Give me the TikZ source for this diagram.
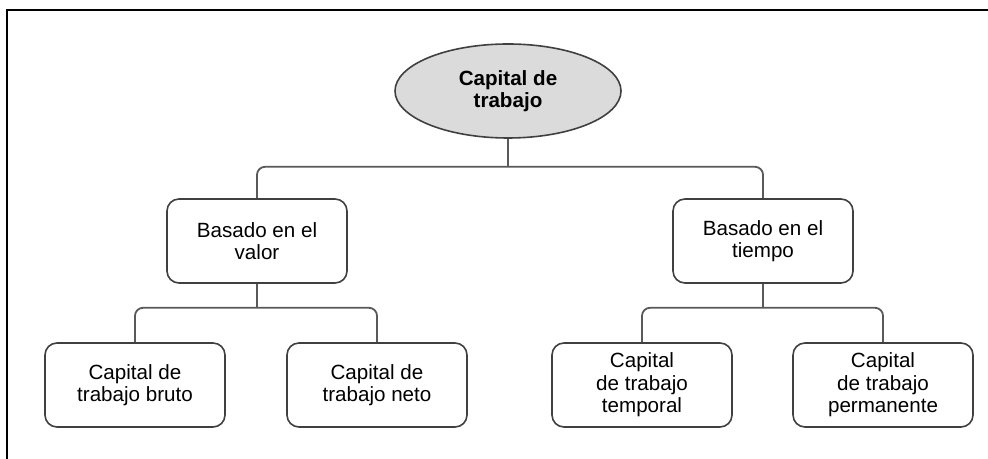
\documentclass[tikz,border=0pt]{standalone}
\usepackage{fontspec}
\setmainfont{Liberation Sans}
\usetikzlibrary{shapes.geometric}
\begin{document}
\begin{tikzpicture}[
  every node/.style={font=\fontsize{10.3}{11.2}\selectfont, align=center},
  root/.style={ellipse, draw=black!75, fill=black!14, line width=0.8pt,
    minimum width=113pt, minimum height=47pt, font=\fontsize{10.3}{11.2}\selectfont\bfseries},
  box/.style={rectangle, rounded corners=6pt, draw=black!75, line width=0.8pt,
    minimum width=90pt, minimum height=42pt},
  link/.style={draw=black!65, line width=0.9pt, rounded corners=4pt}
  ]
  \useasboundingbox (0pt,0pt) rectangle (494pt,-229.5pt);
  \draw[line width=1pt] (3.5pt,-229.5pt) -- (3.5pt,-5pt) -- (494pt,-5pt);
  \node (root) [root] at (254pt,-45.5pt) {Capital de\\trabajo};
  \node (valor) [box, below of=root, node distance=75pt, xshift=-125.5pt] {Basado en el\\valor};
  \node (tiempo) [box, below of=root, node distance=75pt, xshift=127.5pt] {Basado en el\\tiempo};
  \node (bruto) [box, below of=valor, node distance=72pt, xshift=-61pt] {Capital de\\trabajo bruto};
  \node (neto) [box, below of=valor, node distance=72pt, xshift=60pt] {Capital de\\trabajo neto};
  \node (temporal) [box, below of=tiempo, node distance=72pt, xshift=-60.5pt] {Capital\\de trabajo\\temporal};
  \node (permanente) [box, below of=tiempo, node distance=72pt, xshift=60pt] {Capital\\de trabajo\\permanente};
  % T-joints
  \path (root.south) ++(0,-14pt) coordinate (j0);
  \path (valor.south) ++(0,-12pt) coordinate (j1);
  \path (tiempo.south) ++(0,-12pt) coordinate (j2);
  \draw[link] (root.south) -- (j0);
  \draw[link] (j0) -| (valor.north);
  \draw[link] (j0) -| (tiempo.north);
  \draw[link] (valor.south) -- (j1);
  \draw[link] (j1) -| (bruto.north);
  \draw[link] (j1) -| (neto.north);
  \draw[link] (tiempo.south) -- (j2);
  \draw[link] (j2) -| (temporal.north);
  \draw[link] (j2) -| (permanente.north);
\end{tikzpicture}
\end{document}
